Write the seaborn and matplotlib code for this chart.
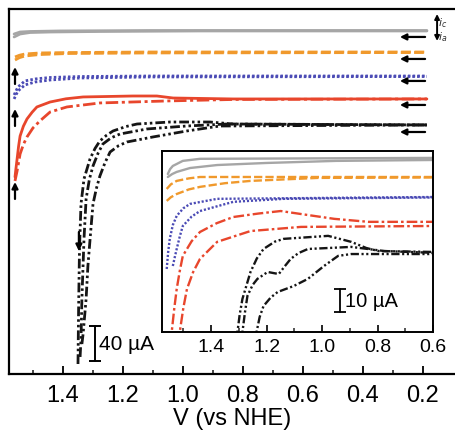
import numpy as np
import pandas as pd
import matplotlib
matplotlib.use("Agg")
import matplotlib.pyplot as plt
import seaborn as sns

# ---------------- data (V vs NHE, current in µA with vertical offsets) ----------------
# main panel
gray_a_v = [1.563, 1.543, 1.51, 1.443, 1.277, 0.943, 0.61, 0.187]
gray_a_i = [387.6, 391.0, 392.7, 393.3, 393.9, 394.5, 394.5, 394.5]
gray_b_v = [1.563, 1.543, 1.51, 1.41, 1.11, 0.187]
gray_b_i = [391.0, 393.3, 393.9, 394.5, 395.0, 395.0]

orange_a_v = [1.56, 1.545, 1.527, 1.477, 1.377, 1.11, 0.187]
orange_a_i = [364.6, 366.6, 368.0, 369.2, 369.7, 370.3, 370.3]
orange_b_v = [1.56, 1.545, 1.527, 1.477, 1.377, 1.11, 0.187]
orange_b_i = [361.1, 363.8, 365.7, 367.4, 368.6, 369.2, 369.7]

blue_a_v = [1.563, 1.556, 1.55, 1.527, 1.493, 1.443, 1.343, 1.11, 0.187]
blue_a_i = [316.3, 321.5, 325.5, 332.4, 335.8, 338.1, 340.4, 341.6, 342.1]
blue_b_v = [1.563, 1.556, 1.55, 1.527, 1.493, 1.443, 1.343, 1.11, 0.187]
blue_b_i = [320.9, 326.0, 330.1, 337.0, 339.3, 341.0, 342.1, 342.7, 342.7]

red_a_v = [1.56, 1.557, 1.553, 1.548, 1.543, 1.532, 1.52, 1.503, 1.487, 1.443, 1.39, 1.333, 1.167, 1.087, 1.033, 0.833, 0.187]
red_a_i = [226.6, 235.8, 247.3, 262.0, 273.7, 285.0, 293.3, 301.0, 307.1, 312.8, 316.5, 318.6, 319.7, 319.7, 317.4, 316.3, 316.3]
red_b_v = [1.56, 1.553, 1.543, 1.532, 1.52, 1.5, 1.477, 1.443, 1.387, 1.277, 1.053, 0.833, 0.187]
red_b_i = [222.0, 233.5, 253.0, 264.0, 272.6, 283.0, 291.0, 301.3, 307.1, 311.7, 314.0, 315.7, 316.3]

black_a_v = [1.35, 1.348, 1.345, 1.34, 1.33, 1.31, 1.293, 1.277, 1.255, 1.233, 1.19, 1.153, 1.043, 0.91, 0.833, 0.187]
black_a_i = [11.5, 74.8, 143.8, 195.5, 224.3, 247.3, 259.5, 268.0, 274.5, 279.5, 284.6, 287.5, 289.8, 289.8, 287.5, 286.4]
black_b_v = [1.343, 1.34, 1.337, 1.33, 1.323, 1.312, 1.3, 1.283, 1.267, 1.24, 1.21, 1.12, 0.987, 0.853, 0.187]
black_b_i = [19.6, 40.3, 86.3, 155.3, 201.3, 224.0, 239.2, 254.0, 264.5, 271.5, 276.0, 281.8, 285.2, 287.5, 286.4]
black_c_v = [1.337, 1.333, 1.323, 1.317, 1.307, 1.3, 1.289, 1.277, 1.26, 1.243, 1.215, 1.187, 1.1, 0.987, 0.877, 0.187]
black_c_i = [34.5, 46.0, 86.3, 124.2, 166.8, 195.5, 213.0, 227.7, 243.0, 255.3, 262.5, 266.8, 272.6, 279.5, 285.2, 286.4]

# inset panel
ins_gray_a_v = [1.556, 1.54, 1.524, 1.476, 1.378, 1.2, 0.95, 0.593]
ins_gray_a_i = [67.4, 68.7, 69.6, 71.3, 72.6, 73.5, 74.4, 74.8]
ins_gray_b_v = [1.556, 1.548, 1.538, 1.502, 1.44, 0.593]
ins_gray_b_i = [68.7, 70.8, 72.2, 74.4, 75.3, 75.7]

ins_orange_a_v = [1.56, 1.545, 1.524, 1.48, 1.44, 0.593]
ins_orange_a_i = [62.2, 64.2, 65.7, 66.8, 67.4, 67.4]
ins_orange_b_v = [1.56, 1.545, 1.524, 1.48, 1.44, 1.35, 1.258, 1.015, 0.593]
ins_orange_b_i = [57.0, 58.6, 60.0, 62.0, 63.1, 64.7, 65.7, 67.0, 67.2]

ins_blue_a_v = [1.56, 1.555, 1.549, 1.538, 1.524, 1.5, 1.476, 1.378, 0.593]
ins_blue_a_i = [27.4, 34.5, 40.5, 46.5, 50.5, 53.8, 55.7, 57.9, 58.7]
ins_blue_b_v = [1.538, 1.531, 1.524, 1.513, 1.502, 1.47, 1.44, 1.32, 1.138, 0.593]
ins_blue_b_i = [28.7, 32.5, 36.1, 41.5, 46.1, 50.2, 52.6, 56.6, 57.9, 58.5]

ins_red_a_v = [1.545, 1.542, 1.533, 1.524, 1.513, 1.502, 1.47, 1.44, 1.38, 1.32, 1.23, 1.149, 1.076, 0.956, 0.833, 0.593]
ins_red_a_i = [-5.0, 0.0, 10.0, 18.7, 26.5, 33.1, 39.5, 43.5, 47.3, 50.0, 51.5, 52.6, 51.3, 49.2, 47.9, 47.9]
ins_red_b_v = [1.516, 1.513, 1.5, 1.487, 1.465, 1.44, 1.378, 1.258, 1.076, 0.593]
ins_red_b_i = [-5.0, 0.0, 10.5, 18.7, 26.0, 31.8, 39.2, 43.9, 45.7, 46.1]

ins_black_a_v = [1.307, 1.305, 1.297, 1.287, 1.258, 1.235, 1.211, 1.17, 1.138, 0.978, 0.895, 0.84, 0.796, 0.593]
ins_black_a_i = [-5.0, 0.0, 7.5, 14.4, 26.1, 32.0, 36.1, 39.3, 40.5, 41.8, 39.2, 36.5, 35.2, 34.8]
ins_black_b_v = [1.29, 1.287, 1.278, 1.269, 1.25, 1.233, 1.196, 1.156, 1.135, 1.113, 1.085, 1.051, 0.895, 0.775, 0.593]
ins_black_b_i = [-5.0, 0.0, 8.5, 15.7, 20.5, 23.1, 26.1, 25.2, 28.5, 31.8, 34.3, 36.1, 37.0, 35.2, 34.4]
ins_black_c_v = [1.238, 1.236, 1.225, 1.211, 1.185, 1.16, 1.102, 1.051, 0.993, 0.942, 0.895, 0.593]
ins_black_c_i = [-5.0, 0.0, 6.5, 11.3, 15.0, 17.4, 20.0, 23.1, 28.7, 33.1, 33.9, 33.9]

main_ticks = [1.4, 1.2, 1.0, 0.8, 0.6, 0.4, 0.2]
main_tick_labels = ["1.4", "1.2", "1.0", "0.8", "0.6", "0.4", "0.2"]
main_minor = [1.5, 1.3, 1.1, 0.9, 0.7, 0.5, 0.3]
ins_ticks = [1.4, 1.2, 1.0, 0.8, 0.6]
ins_tick_labels = ["1.4", "1.2", "1.0", "0.8", "0.6"]
ins_minor = [1.5, 1.3, 1.1, 0.9, 0.7]

# ---------------- styling ----------------
sns.set_theme(style="white")
plt.rcParams["font.family"] = ["Liberation Sans", "DejaVu Sans"]

GRAY = "#a6a6a6"
ORANGE = "#f0992c"
BLUE = "#4b4bb5"
RED = "#e8462c"
BLACK = "#151515"
SOLID = "-"
DASH = (0, (3.5, 1.3))
DOT = (0, (0.9, 0.8))
DASHDOT = (0, (4.5, 1.3, 1.1, 1.3))
DASHDOTDOT = (0, (3.5, 1.1, 0.9, 1.1, 0.9, 1.1))

fig = plt.figure(figsize=(4.55, 4.39), dpi=100)
ax = fig.add_axes([9 / 455, 1 - 375 / 439, 1 - 9 / 455, (375 - 10) / 439])
ins = fig.add_axes([162 / 455, 1 - 333 / 439, (433 - 162) / 455, (333 - 152) / 439])
ins.set_zorder(5)
ins.set_facecolor("white")


def draw(axis, v, i, color, ls, lw=2.0):
    df = pd.DataFrame({"V": v, "I": i})
    sns.lineplot(data=df, x="V", y="I", ax=axis, sort=False, estimator=None,
                 color=color, linestyle=ls, lw=lw, solid_joinstyle="round",
                 dash_joinstyle="round")


main_set = [
    (gray_a_v, gray_a_i, GRAY, SOLID),
    (gray_b_v, gray_b_i, GRAY, SOLID),
    (orange_a_v, orange_a_i, ORANGE, DASH),
    (orange_b_v, orange_b_i, ORANGE, DASH),
    (blue_a_v, blue_a_i, BLUE, DOT),
    (blue_b_v, blue_b_i, BLUE, DOT),
    (red_a_v, red_a_i, RED, SOLID),
    (red_b_v, red_b_i, RED, DASHDOT),
    (black_a_v, black_a_i, BLACK, DASHDOTDOT),
    (black_b_v, black_b_i, BLACK, DASHDOTDOT),
    (black_c_v, black_c_i, BLACK, DASHDOTDOT),
]
for v, i, c, ls in main_set:
    draw(ax, v, i, c, ls)

ins_set = [
    (ins_gray_a_v, ins_gray_a_i, GRAY, SOLID),
    (ins_gray_b_v, ins_gray_b_i, GRAY, SOLID),
    (ins_orange_a_v, ins_orange_a_i, ORANGE, DASH),
    (ins_orange_b_v, ins_orange_b_i, ORANGE, DASH),
    (ins_blue_a_v, ins_blue_a_i, BLUE, DOT),
    (ins_blue_b_v, ins_blue_b_i, BLUE, DOT),
    (ins_red_a_v, ins_red_a_i, RED, DASHDOT),
    (ins_red_b_v, ins_red_b_i, RED, DASHDOT),
    (ins_black_a_v, ins_black_a_i, BLACK, DASHDOTDOT),
    (ins_black_b_v, ins_black_b_i, BLACK, DASHDOTDOT),
    (ins_black_c_v, ins_black_c_i, BLACK, DASHDOTDOT),
]
for v, i, c, ls in ins_set:
    draw(ins, v, i, c, ls, lw=1.7)

# ---------------- main axes ----------------
ax.set_xlim(1.58, 0.0933)
ax.set_ylim(0, 419.75)
ax.set_xticks(main_ticks)
ax.set_xticklabels(main_tick_labels)
ax.set_xticks(main_minor, minor=True)
ax.set_yticks([])
ax.tick_params(axis="x", which="major", direction="in", length=6, width=1.3,
               pad=7, labelsize=17, colors="black", bottom=True, top=False)
ax.tick_params(axis="x", which="minor", direction="in", length=3, width=1.2,
               bottom=True, top=False)
ax.set_xlabel("V (vs NHE)", fontsize=17, labelpad=1, color="black")
ax.set_ylabel("")
for s in ["left", "top", "bottom"]:
    ax.spines[s].set_visible(True)
    ax.spines[s].set_color("black")
    ax.spines[s].set_linewidth(1.6)
ax.spines["right"].set_visible(False)

# arrows (scan direction)
arrow_kw = dict(arrowstyle="-|>", color="black", lw=1.6, mutation_scale=9,
                shrinkA=0, shrinkB=0)
for y in [387.6, 362.3, 337.0, 309.4, 278.3]:
    ax.annotate("", xy=(0.277, y), xytext=(0.193, y), arrowprops=arrow_kw)
for y0, y1 in [(333.5, 353.0), (285.2, 304.8), (201.3, 220.8)]:
    ax.annotate("", xy=(1.56, y1), xytext=(1.56, y0), arrowprops=arrow_kw)
ax.annotate("", xy=(1.347, 141.5), xytext=(1.347, 163.3), arrowprops=arrow_kw)
ax.annotate("", xy=(0.153, 414.0), xytext=(0.153, 383.0),
            arrowprops=dict(arrowstyle="<|-|>", color="black", lw=1.4,
                            mutation_scale=7, shrinkA=0, shrinkB=0))
ax.text(0.133, 405.0, "$i_c$", fontsize=8, ha="center", va="center", color="#333333")
ax.text(0.133, 389.0, "$i_a$", fontsize=8, ha="center", va="center", color="#333333")

# 40 µA scale bar
ax.plot([1.293, 1.293], [15.0, 55.0], color="black", lw=1.4,
        marker="_", markersize=9, mew=1.4)
ax.text(1.28, 35.5, "40 µA", fontsize=15, ha="left", va="center", color="black")

# ---------------- inset ----------------
ins.set_xlim(1.577, 0.6)
ins.set_ylim(0, 78.7)
ins.set_xticks(ins_ticks)
ins.set_xticklabels(ins_tick_labels)
ins.set_xticks(ins_minor, minor=True)
ins.set_yticks([])
ins.tick_params(axis="x", which="major", direction="in", length=5, width=1.2,
                pad=4, labelsize=14, colors="black", bottom=True, top=False)
ins.tick_params(axis="x", which="minor", direction="in", length=3, width=1.1,
                bottom=True, top=False)
ins.set_xlabel("")
ins.set_ylabel("")
for s in ins.spines.values():
    s.set_visible(True)
    s.set_color("black")
    s.set_linewidth(1.4)

ins.plot([0.935, 0.935], [8.7, 18.7], color="black", lw=1.3,
         marker="_", markersize=8, mew=1.3)
ins.text(0.918, 13.8, "10 µA", fontsize=14.5, ha="left", va="center", color="black")

fig.savefig("out.png", dpi=100, facecolor="white")
